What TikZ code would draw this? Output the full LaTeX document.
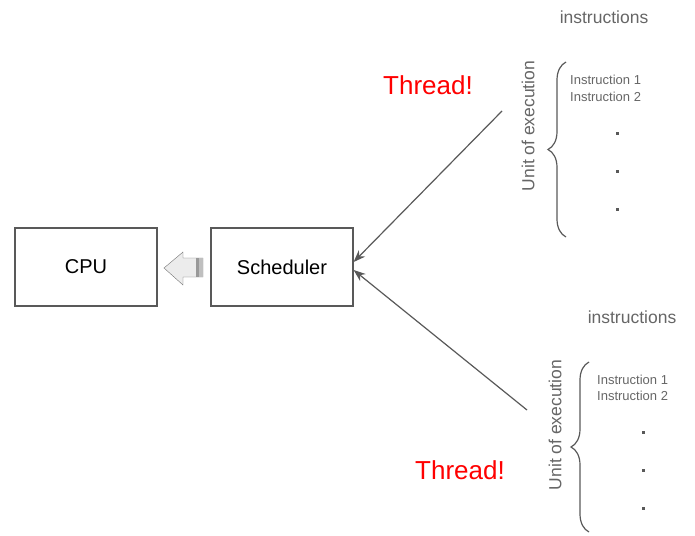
\documentclass[tikz,border=0pt]{standalone}
\usepackage{fontspec}
\setmainfont{Liberation Sans}
\usetikzlibrary{arrows.meta,decorations.pathreplacing}

\definecolor{linegray}{HTML}{595959}
\definecolor{textgray}{HTML}{666666}

\tikzset{
  box/.style={draw=linegray, line width=1.2pt, minimum width=142pt, minimum height=78pt, font=\fontsize{20}{24}\selectfont},
  thread/.style={text=red, font=\fontsize{26}{30}\selectfont},
  link/.style={draw=linegray, line width=1.2pt, -{Stealth[length=12pt,width=9pt]}},
  small/.style={text=textgray, font=\fontsize{13}{15}\selectfont, anchor=west, inner sep=0pt},
  label/.style={text=textgray, font=\fontsize{17.5}{20}\selectfont},
  curly/.style={draw=linegray, line width=1.2pt, decorate, decoration={brace, amplitude=18pt}},
}

\begin{document}
\begin{tikzpicture}[x=1pt, y=-1pt]
  \useasboundingbox (0,0) rectangle (695,535);

  \node[box] (cpu) at (86,267) {CPU};
  \node[box] (sched) at (282,267) {Scheduler};

  % hollow arrow from scheduler to cpu
  \draw[gray!90!black, fill=gray!15] (203,258) -- (183,258) -- (183,252) -- (164,268) -- (183,285) -- (183,277) -- (203,277) -- cycle;
  \fill[gray!80] (196,258) rectangle (199,277);
  \fill[gray!50] (199,258) rectangle (203,277);

  % first thread
  \node[thread] (th1) at (428,85) {Thread!};
  \node[label] (ins1) at (604,17) {instructions};
  \node[label, rotate=90] (unit1) at (528,126) {Unit of execution};
  \draw[curly] (566,237) -- (566,62);
  \node[small] (i11) at (570,80) {Instruction 1};
  \node[small] (i12) at (570,97) {Instruction 2};
  \foreach \y in {133,171,209}
    \fill[linegray] (616,\y-1.5) rectangle (619,\y+1.5);
  \coordinate (src1) at (502,111);
  \draw[link] (src1) -- ([yshift=5pt]sched.east);

  % second thread
  \node[thread] (th2) at (460,470) {Thread!};
  \node[label] (ins2) at (632,317) {instructions};
  \node[label, rotate=90] (unit2) at (555,425) {Unit of execution};
  \draw[curly] (589,532) -- (589,362);
  \node[small] (i21) at (597,380) {Instruction 1};
  \node[small] (i22) at (597,396) {Instruction 2};
  \foreach \y in {432,470,508}
    \fill[linegray] (642,\y-1.5) rectangle (645,\y+1.5);
  \coordinate (src2) at (527,410);
  \draw[link] (src2) -- ([yshift=-3pt]sched.east);
\end{tikzpicture}
\end{document}
